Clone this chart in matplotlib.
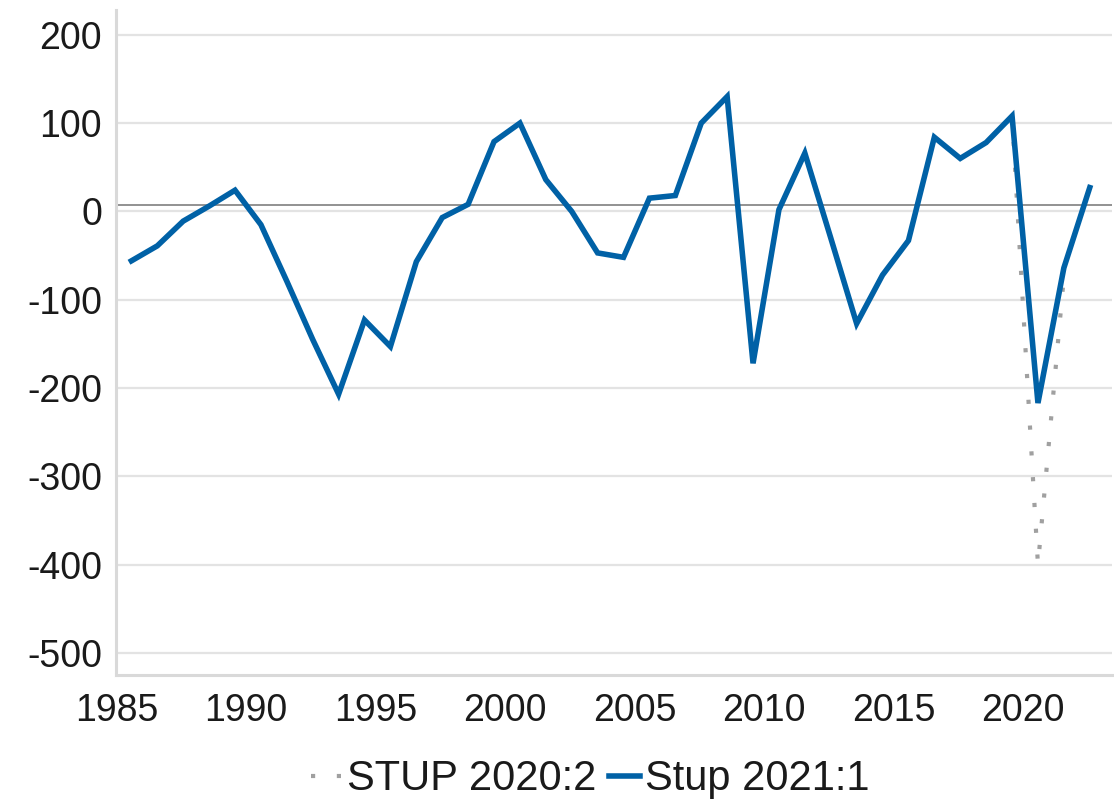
import numpy as np
import matplotlib
matplotlib.use('Agg')
import matplotlib.pyplot as plt

# Years shown on the chart
years = list(range(1985, 2023))

# Stup 2021:1 (blue, solid)
stup_2021 = [-56, -39, -11, 6, 24, -15, -79, -145, -207, -123,
             -153, -57, -7, 8, 79, 100, 36, 0, -47, -52,
             15, 18, 100, 130, -172, 2, 66, -30, -127, -72,
             -33, 84, 60, 78, 108, -217, -64, 27]

# STUP 2020:2 (grey, dotted) - lies under the blue line until 2019, ends 2021
years_2020 = list(range(1985, 2022))
stup_2020 = [-56, -39, -11, 6, 24, -15, -79, -145, -207, -123,
             -153, -57, -7, 8, 79, 100, 36, 0, -47, -52,
             15, 18, 100, 130, -172, 2, 66, -30, -127, -72,
             -33, 84, 60, 78, 108, -400, -74]

y_ticks = [200, 100, 0, -100, -200, -300, -400, -500]
x_tick_years = [1985, 1990, 1995, 2000, 2005, 2010, 2015, 2020]
ref_level = 7  # dark horizontal reference line just above zero

plt.rcParams['font.family'] = ['Liberation Sans', 'DejaVu Sans']

fig = plt.figure(figsize=(11.14, 8.06), dpi=100)
ax = fig.add_axes([0.104, 0.1625, 0.894, 0.825])

# grid lines
for v in y_ticks:
    ax.axhline(v, color='#e3e3e3', lw=1.6, zorder=0)
ax.axhline(ref_level, color='#7f7f7f', lw=1.2, zorder=1)

ax.plot(years_2020, stup_2020, color='#a0a0a0', lw=3.0,
        linestyle=(0, (1, 5.2)), dash_capstyle='butt', zorder=2,
        label='STUP 2020:2')
ax.plot(years, stup_2021, color='#0061a6', lw=4.0, zorder=3,
        solid_joinstyle='miter', label='Stup 2021:1')

ax.set_xlim(1984.4, 2022.85)
ax.set_ylim(-525, 228)

ax.set_yticks(y_ticks)
ax.set_yticklabels([str(v) for v in y_ticks])
# labels sit a bit left of the data year (category axis style)
ax.set_xticks([y - 0.57 for y in x_tick_years])
ax.set_xticklabels([str(y) for y in x_tick_years])

ax.tick_params(axis='both', length=0, labelsize=27, colors='#1a1a1a')
ax.tick_params(axis='y', pad=10)
ax.tick_params(axis='x', pad=13)

for side in ['top', 'right']:
    ax.spines[side].set_visible(False)
for side in ['left', 'bottom']:
    ax.spines[side].set_color('#d9d9d9')
    ax.spines[side].set_linewidth(2.2)

leg = fig.legend(loc='lower center', bbox_to_anchor=(0.53, -0.038), ncol=2,
                 frameon=False, fontsize=30, handlelength=0.75,
                 handletextpad=0.12, columnspacing=0.3)
for t in leg.get_texts():
    t.set_color('#1a1a1a')

fig.savefig('out.png', dpi=100)
